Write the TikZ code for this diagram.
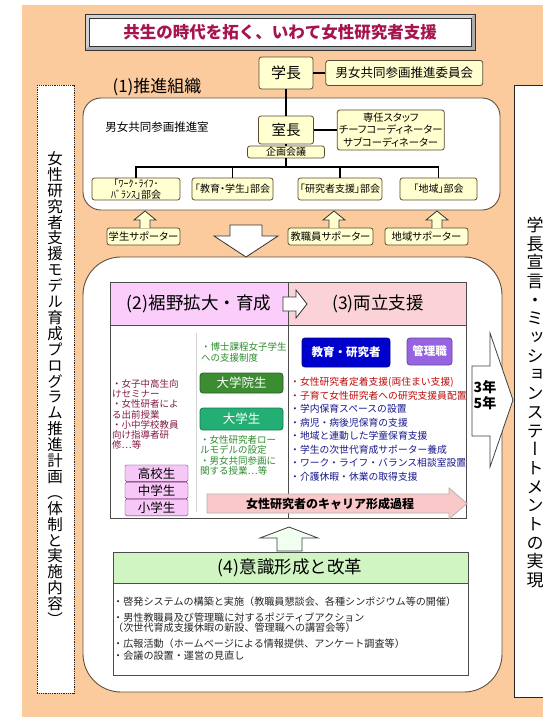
\documentclass[tikz,border=0pt]{standalone}
\usepackage{fontspec}
\setmainfont{Noto Sans CJK JP}
\newfontfamily\pjp{Noto Sans CJK JP}[RawFeature={+palt}]
\newfontfamily\tatefont{Noto Sans CJK JP}[RawFeature={+vert}]
\usetikzlibrary{positioning,calc}

\definecolor{peach}{RGB}{251,203,158}
\definecolor{paleyellow}{RGB}{255,255,208}
\definecolor{boxline}{RGB}{90,75,50}
\definecolor{orgline}{RGB}{95,80,65}
\definecolor{titlered}{RGB}{165,20,80}
\definecolor{lilac}{RGB}{250,205,250}
\definecolor{pinkhd}{RGB}{250,210,215}
\definecolor{ltext}{RGB}{130,25,70}
\definecolor{gtext}{RGB}{45,140,45}
\definecolor{dgreen}{RGB}{60,140,50}
\definecolor{tgreen}{RGB}{35,175,115}
\definecolor{eblue}{RGB}{0,0,205}
\definecolor{mpurple}{RGB}{150,100,225}
\definecolor{rtext}{RGB}{190,10,10}
\definecolor{btext}{RGB}{25,25,140}
\definecolor{careerpink}{RGB}{250,200,200}
\definecolor{lgreen}{RGB}{208,245,195}
\definecolor{lvlfill}{RGB}{247,200,247}
\definecolor{lvlline}{RGB}{100,40,100}

% font size shortcut
\newcommand\fsz[2]{\fontsize{#1pt}{#2pt}\selectfont}
% vertical text: one glyph per line
\newcommand\tate[2]{\vbox{\baselineskip=#1\lineskip=0pt\lineskiplimit=-20pt\tateloop#2\relax}}
\def\tateloop#1{\ifx\relax#1\else\hbox to 1em{\hss#1\hss}\expandafter\tateloop\fi}

\begin{document}
\begin{tikzpicture}[%
    x=1pt, y=-1pt,              % work in pixels, y going down
    every node/.style={inner sep=0pt},
    ]
% -------------------------------------------------
% Box styles
\tikzset{
  ybox/.style={draw=boxline, fill=paleyellow, rounded corners=2.5pt, align=center, line width=0.8pt},
  gbox/.style={draw=#1!70!black, fill=#1, text=white, rounded corners=3pt, align=center, line width=0.8pt},
  lvl/.style={draw=lvlline, fill=lvlfill, rounded corners=1.5pt, minimum width=63pt, minimum height=16.7pt, font=\fsz{12.5}{12.5}},
  item/.style={align=left, anchor=north west},
  % -------------------------------------------------
  % line styles
  org/.style={draw=black, line width=1.6pt},
  frame/.style={draw=orgline, line width=0.9pt, fill=white},
  panel/.style={draw=gray!60!black, line width=0.8pt},
  hollow/.style={draw=gray!40!black, fill=white, line width=0.8pt, line join=miter},
}
\useasboundingbox (0,0) rectangle (543,721);
\fill[white] (0,0) rectangle (543,721);
\fill[peach] (22,5) rectangle (543,717);
% -------------------------------------------------
% Title plate
\fill[gray!35] (85,14) -- (475,14) -- (471,18) -- (89,18) -- (89,46) -- (85,50) -- cycle;
\fill[gray!65] (475,14) -- (475,50) -- (85,50) -- (89,46) -- (471,46) -- (471,18) -- cycle;
\draw[black!80, line width=0.7pt] (85,14) rectangle (475,50);
\draw[black!80, fill=white, line width=0.6pt] (89,18) rectangle (471,46);
\node[font=\bfseries\fsz{16.5}{16.5}, text=titlered] (title) at (280,32) {共生の時代を拓く、いわて女性研究者支援};
% -------------------------------------------------
% Side panels
\draw[densely dotted, gray!30!black, fill=white, line width=0.8pt] (37,85) rectangle (74,693);
\node[font=\tatefont\fsz{15.5}{15.5}] (plan) at (55,388.5)
  {\tate{15.9pt}{女性研究者支援モデル育成プログラム推進計画（体制と実施内容）}};
\fill[white] (514,85) rectangle (543,697);
\draw[gray!30!black, line width=0.8pt] (543,85) -- (514,85) -- (514,697) -- (543,697);
\node[font=\tatefont\fsz{17}{17}] (mission) at (535,402.5)
  {\tate{18.7pt}{学長宣言・ミッションステートメントの実現}};
% -------------------------------------------------
% (1) organisation
\node[font=\fsz{17}{17}] (sec1) at (157,87) {(1)推進組織};
\draw[frame, rounded corners=18pt] (83,98) rectangle (500,210);
\node[ybox, minimum width=54, minimum height=32, font=\fsz{15}{15}] (gakucho) at (286,73) {学長};
\node[ybox, minimum width=157, minimum height=25, font=\fsz{12.5}{12.5}, right=12 of gakucho] (iinkai) {男女共同参画推進委員会};
\node[font=\fsz{11.5}{11.5}] (shitsu) at (157,127) {男女共同参画推進室};
\node[ybox, minimum width=55, minimum height=28, font=\fsz{14.5}{14.5}] (shitsucho) at (286,130) {室長};
\node[ybox, minimum width=107, minimum height=40, font=\pjp\fsz{10.3}{12.5}, right=23 of shitsucho] (staff)
  {専任スタッフ\\チーフコーディネーター\\サブコーディネーター};
\node[ybox, minimum width=77, minimum height=12, font=\fsz{10}{10}] (kikaku) at (286,152) {企画会議};
% 部会
\node[ybox, minimum width=88, minimum height=22, font=\pjp\fsz{10}{10.5}] (wlb) at (136,189) {「ﾜｰｸ･ﾗｲﾌ･\\ﾊﾞﾗﾝｽ」部会};
\node[ybox, minimum width=81, minimum height=22, font=\pjp\fsz{10}{10}] (edu) at (232.5,189) {「教育・学生」部会};
\node[ybox, minimum width=84, minimum height=22, font=\pjp\fsz{10}{10}] (res) at (340,189) {「研究者支援」部会};
\node[ybox, minimum width=77, minimum height=22, font=\pjp\fsz{10}{10}] (reg) at (438.5,189) {「地域」部会};
% connectors
\coordinate (bar) at (0,167);
\draw[org] (gakucho) -- (iinkai);
\draw[org] (gakucho.south) -- (shitsucho.north);
\draw[org] (shitsucho) -- (staff);
\draw[org] (shitsucho.south) -- (kikaku.north);
\draw[org] (kikaku.south) -- (kikaku.south |- bar);
\draw[org] (wlb.north) -- (wlb.north |- bar) -- (reg.north |- bar) -- (reg.north);
\draw[org] (edu.north) -- (edu.north |- bar);
\draw[org] (res.north) -- (res.north |- bar);
% -------------------------------------------------
% Supporters
\node[ybox, minimum width=73, minimum height=17, font=\pjp\fsz{10.3}{10}] (ss) at (143.5,236.5) {学生サポーター};
\node[ybox, minimum width=85, minimum height=17, font=\pjp\fsz{10.3}{10}] (sf) at (330.5,236.5) {教職員サポーター};
\node[ybox, minimum width=83, minimum height=17, font=\pjp\fsz{10.3}{10}] (sr) at (426.5,236.5) {地域サポーター};
\draw[hollow, fill=paleyellow] (140,228) -- ++(0,-8) -- ++(-6,0) -- ++(11,-9) -- ++(11,9) -- ++(-6,0) -- ++(0,8);
\draw[hollow, fill=paleyellow] (329,228) -- ++(0,-8) -- ++(-6,0) -- ++(11,-9) -- ++(11,9) -- ++(-6,0) -- ++(0,8);
\draw[hollow, fill=paleyellow] (432,228) -- ++(0,-8) -- ++(-6,0) -- ++(11,-9) -- ++(11,9) -- ++(-6,0) -- ++(0,8);
% -------------------------------------------------
% Main body
\draw[frame, rounded corners=38pt] (83,257) rectangle (502,692);
\draw[hollow] (230,225) -- (262,225) -- (262,236) -- (278,236) -- (246,257) -- (214,236) -- (230,236) -- cycle;
% (2)(3) panel
\fill[lilac] (110,282) rectangle (288,325);
\fill[pinkhd] (288,282) rectangle (466,325);
\draw[panel] (110,282) rectangle (466,518);
\draw[panel] (110,325) -- (466,325);
\draw[panel] (288,282) -- (288,518);
\draw[gray!35, line width=0.6pt] (196,333) -- (196,512);
\node[font=\fsz{17.5}{17.5}] (sec2) at (199,304) {(2)裾野拡大・育成};
\node[font=\fsz{17.5}{17.5}] (sec3) at (378,304) {(3)両立支援};
\draw[hollow] (283,297) -- (296,297) -- (296,290) -- (307,304) -- (296,318) -- (296,311) -- (283,311) -- cycle;
% left column
\node[item, text=ltext, font=\fsz{9.5}{10.1}] (outreach) at (112,379.5)
  {・女子中高生向\\けセミナー\\・女性研者によ\\る出前授業\\・小中学校教員\\向け指導者研\\修…等};
\node[lvl] (high) at (156.5,473.3) {高校生};
\node[lvl, below=0pt of high] (middle) {中学生};
\node[lvl, below=0pt of middle] (elem) {小学生};
% middle column
\node[item, text=gtext, font=\fsz{9.5}{11}] (phd) at (201,342) {・博士課程女子学生\\への支援制度};
\node[gbox=dgreen, minimum width=83, minimum height=20, font=\fsz{12.5}{12.5}] (grad) at (241.5,383) {大学院生};
\node[gbox=tgreen, minimum width=83, minimum height=22, font=\fsz{12.5}{12.5}] (ug) at (241.5,419) {大学生};
\node[item, text=gtext, font=\fsz{9.5}{10.2}] (model) at (200,435.5) {・女性研究者ロー\\ルモデルの設定\\・男女共同参画に\\関する授業…等};
% right column
\node[gbox=eblue, minimum width=88, minimum height=29, font=\bfseries\fsz{11.5}{11.5}] (fac) at (346,352.5) {教育・研究者};
\node[gbox=mpurple, minimum width=45, minimum height=27, font=\bfseries\fsz{11.5}{11.5}] (mgr) at (429.5,351.5) {管理職};
\node[item, font=\fsz{9.8}{13.5}] (support) at (290,377.2)
  {\textcolor{rtext}{・女性研究者定着支援(両住まい支援)}\\
   \textcolor{rtext}{・子育て女性研究者への研究支援員配置}\\
   \textcolor{btext}{・学内保育スペースの設置}\\
   \textcolor{btext}{・病児・病後児保育の支援}\\
   \textcolor{btext}{・地域と連動した学童保育支援}\\
   \textcolor{btext}{・学生の次世代育成サポーター養成}\\
   \textcolor{btext}{・ワーク・ライフ・バランス相談室設置}\\
   \textcolor{btext}{・介護休暇・休業の取得支援}};
% career arrow
\draw[hollow, fill=careerpink, draw=gray!60] (207,494) -- (449,494) -- (449,488) -- (467,503.5) -- (449,519) -- (449,513) -- (207,513) -- cycle;
\node[font=\bfseries\fsz{12}{12}] (career) at (330,504) {女性研究者のキャリア形成過程};
% -------------------------------------------------
% 3年 5年
\draw[hollow, draw=gray!50!black] (472,366) -- (490,366) -- (490,333) -- (513,400) -- (490,467) -- (490,436) -- (472,436) -- cycle;
\node[font=\bfseries\fsz{14}{16}, align=center] (term) at (485,395) {3年\\5年};
% -------------------------------------------------
% (4) awareness
\draw[hollow, fill=green!6, draw=gray!50!black] (277,551) -- (277,538) -- (260,538) -- (289,527) -- (318,538) -- (302,538) -- (302,551) -- cycle;
\fill[lgreen] (113,552) rectangle (468,583);
\draw[panel] (113,552) rectangle (468,675);
\draw[panel] (113,583) -- (468,583);
\node[font=\fsz{17.5}{17.5}] (sec4) at (290,568) {(4)意識形成と改革};
\node[item, text=black!85, font=\fsz{10.1}{10.5}] (aware) at (113,597)
  {・啓発システムの構築と実施（教職員懇談会、各種シンポジウム等の開催）\\[5pt]
   ・男性教職員及び管理職に対するポジティブアクション\\
   （次世代育成支援休暇の新設、管理職への講習会等）\\[5.5pt]
   ・広報活動（ホームページによる情報提供、アンケート調査等）\\[1.5pt]
   ・会議の設置・運営の見直し};
\end{tikzpicture}
\end{document}
